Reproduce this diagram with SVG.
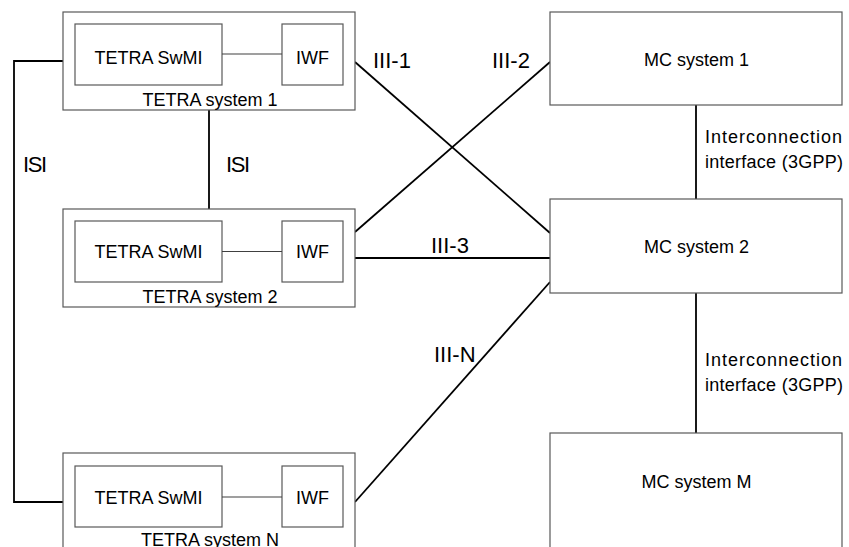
<svg xmlns="http://www.w3.org/2000/svg" width="849" height="547" viewBox="0 0 849 547">
  <style>
    .box { fill: #ffffff; stroke: #595959; stroke-width: 1.2; }
    .link { fill: none; stroke: #000000; stroke-width: 1.8; }
    .inner { fill: none; stroke: #404040; stroke-width: 1.2; }
    text { font-family: "Liberation Sans", Arial, sans-serif; fill: #000000; }
    .lbl { font-size: 18px; text-anchor: middle; }
    .if { font-size: 22px; }
    .ic { font-size: 18px; }
  </style>
  <rect width="849" height="547" fill="#ffffff"/>

  <!-- connectors -->
  <g id="connectors">
    <polyline class="link" points="63,61 14,61 14,502 63,502"/>
    <line class="link" x1="209" y1="110" x2="209" y2="209"/>
    <line class="link" x1="355" y1="62" x2="550" y2="233"/>
    <line class="link" x1="355" y1="232" x2="550" y2="62"/>
    <line class="link" x1="355" y1="258" x2="550" y2="258"/>
    <line class="link" x1="355" y1="502" x2="550" y2="282"/>
    <line class="link" x1="696" y1="105" x2="696" y2="199"/>
    <line class="link" x1="696" y1="293" x2="696" y2="433"/>
    <text class="if" x="23" y="172" textLength="24">ISI</text>
    <text class="if" x="226" y="172" textLength="24">ISI</text>
    <text class="if" x="373" y="68">III-1</text>
    <text class="if" x="492" y="68">III-2</text>
    <text class="if" x="431" y="253">III-3</text>
    <text class="if" x="434" y="362">III-N</text>
    <text class="ic" x="705" y="143" textLength="137">Interconnection</text>
    <text class="ic" x="705" y="168" textLength="138">interface (3GPP)</text>
    <text class="ic" x="705" y="366" textLength="137">Interconnection</text>
    <text class="ic" x="705" y="391" textLength="138">interface (3GPP)</text>
  </g>

  <!-- TETRA system 1 -->
  <g id="tetra1">
    <rect class="box" x="63" y="12" width="292" height="98"/>
    <rect class="box" x="75" y="24" width="147" height="61"/>
    <rect class="box" x="282" y="24" width="61" height="61"/>
    <line class="inner" x1="222" y1="54" x2="282" y2="54"/>
    <text class="lbl" x="148.5" y="64">TETRA SwMI</text>
    <text class="lbl" x="312.5" y="64">IWF</text>
    <text class="lbl" x="210" y="106">TETRA system 1</text>
  </g>

  <!-- TETRA system 2 -->
  <g id="tetra2">
    <rect class="box" x="63" y="209" width="292" height="98"/>
    <rect class="box" x="75" y="221" width="147" height="61"/>
    <rect class="box" x="282" y="221" width="61" height="61"/>
    <line class="inner" x1="222" y1="251.5" x2="282" y2="251.5"/>
    <text class="lbl" x="148.5" y="258">TETRA SwMI</text>
    <text class="lbl" x="312.5" y="258">IWF</text>
    <text class="lbl" x="210" y="303">TETRA system 2</text>
  </g>

  <!-- TETRA system N -->
  <g id="tetraN">
    <rect class="box" x="63" y="453" width="292" height="110"/>
    <rect class="box" x="75" y="466" width="147" height="61"/>
    <rect class="box" x="282" y="466" width="61" height="61"/>
    <line class="inner" x1="222" y1="497" x2="282" y2="497"/>
    <text class="lbl" x="148.5" y="504">TETRA SwMI</text>
    <text class="lbl" x="312.5" y="504">IWF</text>
    <text class="lbl" x="210" y="546">TETRA system N</text>
  </g>

  <!-- MC systems -->
  <g id="mc1">
    <rect class="box" x="550" y="12" width="292" height="93"/>
    <text class="lbl" x="696.5" y="66">MC system 1</text>
  </g>
  <g id="mc2">
    <rect class="box" x="550" y="199" width="292" height="94"/>
    <text class="lbl" x="696.5" y="253">MC system 2</text>
  </g>
  <g id="mcM">
    <rect class="box" x="550" y="433" width="292" height="130"/>
    <text class="lbl" x="696.5" y="488">MC system M</text>
  </g>
</svg>
